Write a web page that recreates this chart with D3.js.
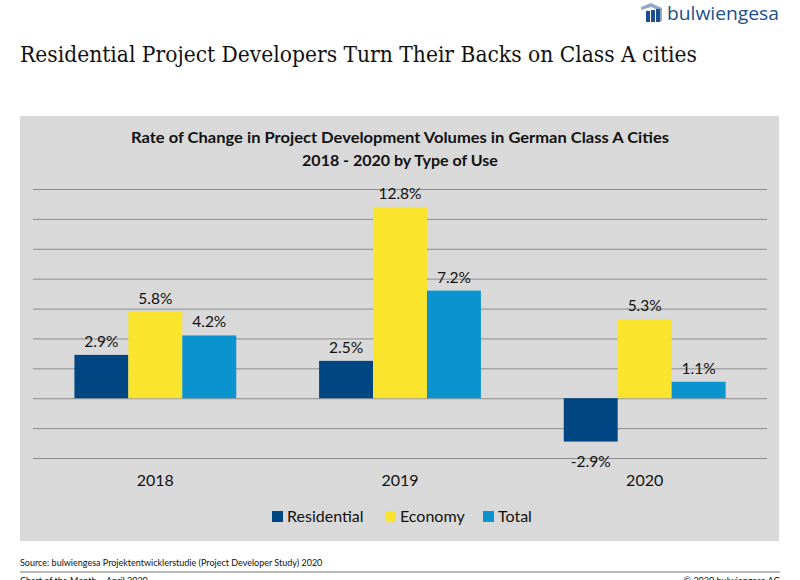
<!DOCTYPE html>
<html><head><meta charset="utf-8">
<script src="https://cdn.jsdelivr.net/npm/d3@7"></script>
<style>body{margin:0;background:#fff}svg{display:block}</style>
</head><body>
<svg id="c" width="800" height="580"></svg>
<script>
const years = ["2018", "2019", "2020"];
const seriesNames = ["Residential", "Economy", "Total"];
const residential = [2.9, 2.5, -2.9];
const economy = [5.8, 12.8, 5.3];
const total = [4.2, 7.2, 1.1];
const yTicks = [-4, -2, 0, 2, 4, 6, 8, 10, 12, 14];
const colors = ["#004682", "#fbe42d", "#0a93cf"];

const svg = d3.select("#c");
const seriesVals = [residential, economy, total];

// logo
const logo = svg.append("g");
logo.append("path").attr("d","M641,7 L651,3 L662,8 L662,21 L658,22 L658,10 L651,7 L641,10 Z").attr("fill","#8fa9c9");
logo.append("rect").attr("x",646).attr("y",11).attr("width",4).attr("height",11).attr("fill","#1d4f8c");
logo.append("rect").attr("x",651).attr("y",10).attr("width",4).attr("height",12).attr("fill","#1d4f8c");
logo.append("rect").attr("x",656).attr("y",9).attr("width",4).attr("height",13).attr("fill","#1d4f8c");
logo.append("text").attr("x",667).attr("y",20).attr("font-family","Open Sans, sans-serif")
  .attr("font-size",19).attr("fill","#1d4f8c")
  .attr("textLength",112).attr("lengthAdjust","spacingAndGlyphs").text("bulwiengesa");

// main title
svg.append("text").attr("x",20).attr("y",62).attr("font-family","DejaVu Serif, serif")
  .attr("font-size",21.5).attr("fill","#111")
  .attr("textLength",677).attr("lengthAdjust","spacingAndGlyphs")
  .text("Residential Project Developers Turn Their Backs on Class A cities");

// panel
svg.append("rect").attr("x",20).attr("y",116).attr("width",759).attr("height",425).attr("fill","#d9d9d9");

svg.append("text").attr("x",400).attr("y",143).attr("text-anchor","middle")
  .attr("font-family","Lato, sans-serif").attr("font-weight","bold").attr("font-size",16).attr("fill","#111")
  .attr("textLength",538).attr("lengthAdjust","spacingAndGlyphs")
  .text("Rate of Change in Project Development Volumes in German Class A Cities");
svg.append("text").attr("x",400).attr("y",166).attr("text-anchor","middle")
  .attr("font-family","Lato, sans-serif").attr("font-weight","bold").attr("font-size",16).attr("fill","#111")
  .text("2018 - 2020 by Type of Use");

const x = d3.scaleBand().domain(years).range([33,767]);
const xs = d3.scaleBand().domain(seriesNames).range([0, x.bandwidth()]).paddingInner(0).paddingOuter(0.768);
const y = d3.scaleLinear().domain([-4,14]).range([458,189]);

// gridlines
const yAxis = d3.axisLeft(y).tickValues(yTicks).tickSize(-734).tickFormat("");
const ga = svg.append("g").attr("transform","translate(33,0)").call(yAxis);
ga.select(".domain").remove();
ga.selectAll("line").attr("stroke","#8c8c8c").attr("stroke-width",1);

// bars
const g = svg.append("g");
years.forEach((yr,i)=>{
  seriesNames.forEach((s,j)=>{
    const v = seriesVals[j][i];
    const x0 = x(yr)+xs(s);
    g.append("rect").attr("x",x0).attr("width",xs.bandwidth())
      .attr("y",y(Math.max(0,v))).attr("height",Math.abs(y(v)-y(0)))
      .attr("fill",colors[j]);
    g.append("text").attr("x",x0+xs.bandwidth()/2)
      .attr("y", v>=0 ? y(v)-8 : y(v)+25)
      .attr("text-anchor","middle").attr("font-family","Lato, sans-serif")
      .attr("font-size",15.5).attr("fill","#111").text(v.toFixed(1)+"%");
  });
});

// x axis labels
const xAxis = d3.axisBottom(x).tickSize(0).tickPadding(0);
const gx = svg.append("g").attr("transform","translate(0,475)").call(xAxis);
gx.select(".domain").remove();
gx.selectAll("text").attr("font-family","Lato, sans-serif").attr("font-size",16).attr("fill","#111");

// legend
const leg = [{n:"Residential",x:272},{n:"Economy",x:385},{n:"Total",x:483}];
leg.forEach((l,i)=>{
  svg.append("rect").attr("x",l.x).attr("y",511).attr("width",11).attr("height",11).attr("fill",colors[i]);
  svg.append("text").attr("x",l.x+15).attr("y",522).attr("font-family","Lato, sans-serif")
    .attr("font-size",16).attr("fill","#111").text(l.n);
});

// footer
svg.append("text").attr("x",20).attr("y",566).attr("font-family","Lato, sans-serif")
  .attr("font-size",9).attr("fill","#111").text("Source: bulwiengesa Projektentwicklerstudie (Project Developer Study) 2020");
svg.append("line").attr("x1",20).attr("x2",780).attr("y1",572).attr("y2",572).attr("stroke","#777").attr("stroke-width",1);
svg.append("text").attr("x",20).attr("y",584).attr("font-family","Lato, sans-serif")
  .attr("font-size",9).attr("fill","#111").text("Chart of the Month – April 2020");
svg.append("text").attr("x",780).attr("y",584).attr("text-anchor","end").attr("font-family","Lato, sans-serif")
  .attr("font-size",9).attr("fill","#111").text("© 2020 bulwiengesa AG");
</script>
</body></html>
